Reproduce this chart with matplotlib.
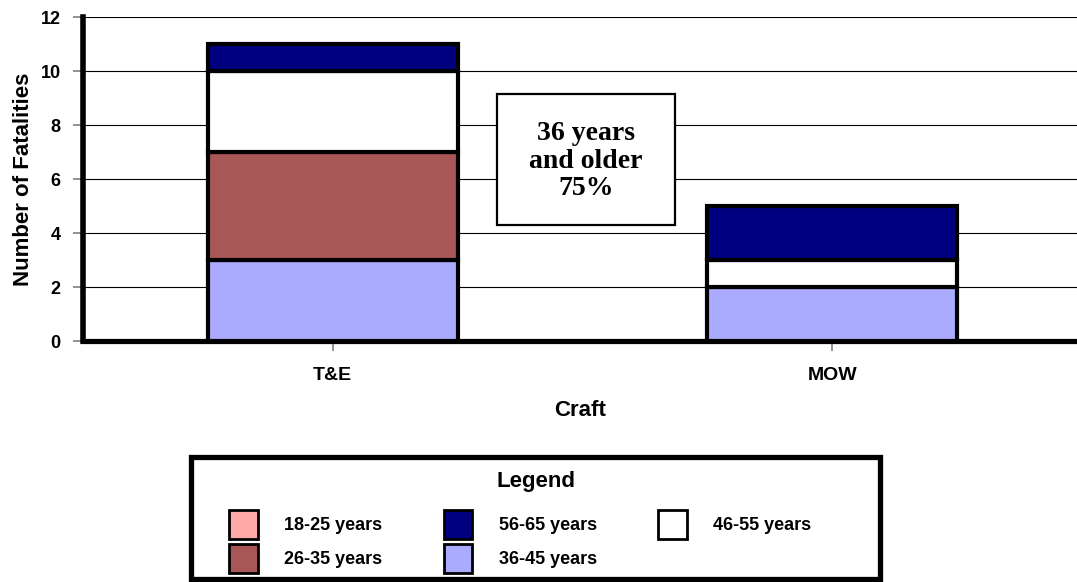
import matplotlib
matplotlib.use("Agg")
import matplotlib.pyplot as plt
from matplotlib.patches import Patch, Rectangle
import numpy as np

categories = ["T&E", "MOW"]
v_18_25 = [0, 0]
v_36_45 = [3, 2]
v_26_35 = [4, 0]
v_46_55 = [3, 1]
v_56_65 = [1, 2]
colors = {"18-25 years": "#FFA8A8", "26-35 years": "#A95656", "36-45 years": "#AAAAFF",
          "46-55 years": "#FFFFFF", "56-65 years": "#000080"}
yticks = [0, 2, 4, 6, 8, 10, 12]
annotation = "36 years\nand older\n75%"

plt.rcParams['font.family'] = ['Liberation Sans', 'DejaVu Sans']
fig = plt.figure(figsize=(10.77, 5.82), dpi=100)
W, H = 1077, 582
ax = fig.add_axes([83/W, 1-341/H, 1-83/W, (341-17)/H])

x = np.arange(len(categories))
series = [("18-25 years", v_18_25), ("36-45 years", v_36_45), ("26-35 years", v_26_35),
          ("46-55 years", v_46_55), ("56-65 years", v_56_65)]
bottom = np.zeros(len(categories))
for name, vals in series:
    vals = np.array(vals, dtype=float)
    mask = vals > 0
    ax.bar(x[mask], vals[mask], bottom=bottom[mask], width=0.5, color=colors[name],
           edgecolor='black', linewidth=3, zorder=3)
    bottom += vals

ax.set_xlim(-0.5, 1.49)
ax.set_ylim(0, 12)
ax.set_yticks(yticks)
ax.set_yticklabels([str(t) for t in yticks], fontweight='bold', fontsize=13)
ax.set_xticks(x)
ax.set_xticklabels(categories, fontweight='bold', fontsize=14)
ax.grid(axis='y', color='black', linewidth=0.8, zorder=0)
ax.set_axisbelow(True)
for s in ['top', 'right']:
    ax.spines[s].set_visible(False)
ax.spines['left'].set_linewidth(4)
ax.spines['bottom'].set_linewidth(3.75)
ax.tick_params(axis='both', colors='gray', length=7, width=1.2, labelcolor='black', pad=6)
ax.tick_params(axis='y', pad=9)
ax.tick_params(axis='x', pad=12)
ax.set_ylabel("Number of Fatalities", fontweight='bold', fontsize=16, labelpad=5)
ax.set_xlabel("Craft", fontweight='bold', fontsize=16, labelpad=11)

# annotation box
bx0, by0, bw, bh = (497-83)/994, (341-225)/324, 178/994, 131/324
ax.add_patch(Rectangle((bx0, by0), bw, bh, transform=ax.transAxes, facecolor='white',
                       edgecolor='black', linewidth=1.6, zorder=5))
ax.text(bx0 + bw/2, 0.555, annotation, transform=ax.transAxes, ha='center', va='center',
        fontsize=20, fontweight='bold', family='Liberation Serif', linespacing=1.12, zorder=6)

# legend frame and title
fig.patches.append(Rectangle((191/W, 1-579/H), (880-191)/W, (579-457)/H, transform=fig.transFigure,
                             facecolor='white', edgecolor='black', linewidth=3.8, zorder=0))
fig.text(536/W, 1-482/H, "Legend", ha='center', va='center', fontsize=16, fontweight='bold')

legend_order = ["18-25 years", "26-35 years", "56-65 years", "36-45 years", "46-55 years"]
handles = [Patch(facecolor=colors[n], edgecolor='black', linewidth=2, label=n) for n in legend_order]
leg = fig.legend(handles=handles, loc='upper left', ncol=3,
                 bbox_to_anchor=(229/W, 1-510/H),
                 prop={'weight': 'bold', 'size': 13}, frameon=False,
                 handlelength=1.6, handleheight=2.1, handletextpad=1.45, labelspacing=0.28,
                 borderpad=0, borderaxespad=0, columnspacing=3.4)

fig.savefig("out.png", dpi=100)
